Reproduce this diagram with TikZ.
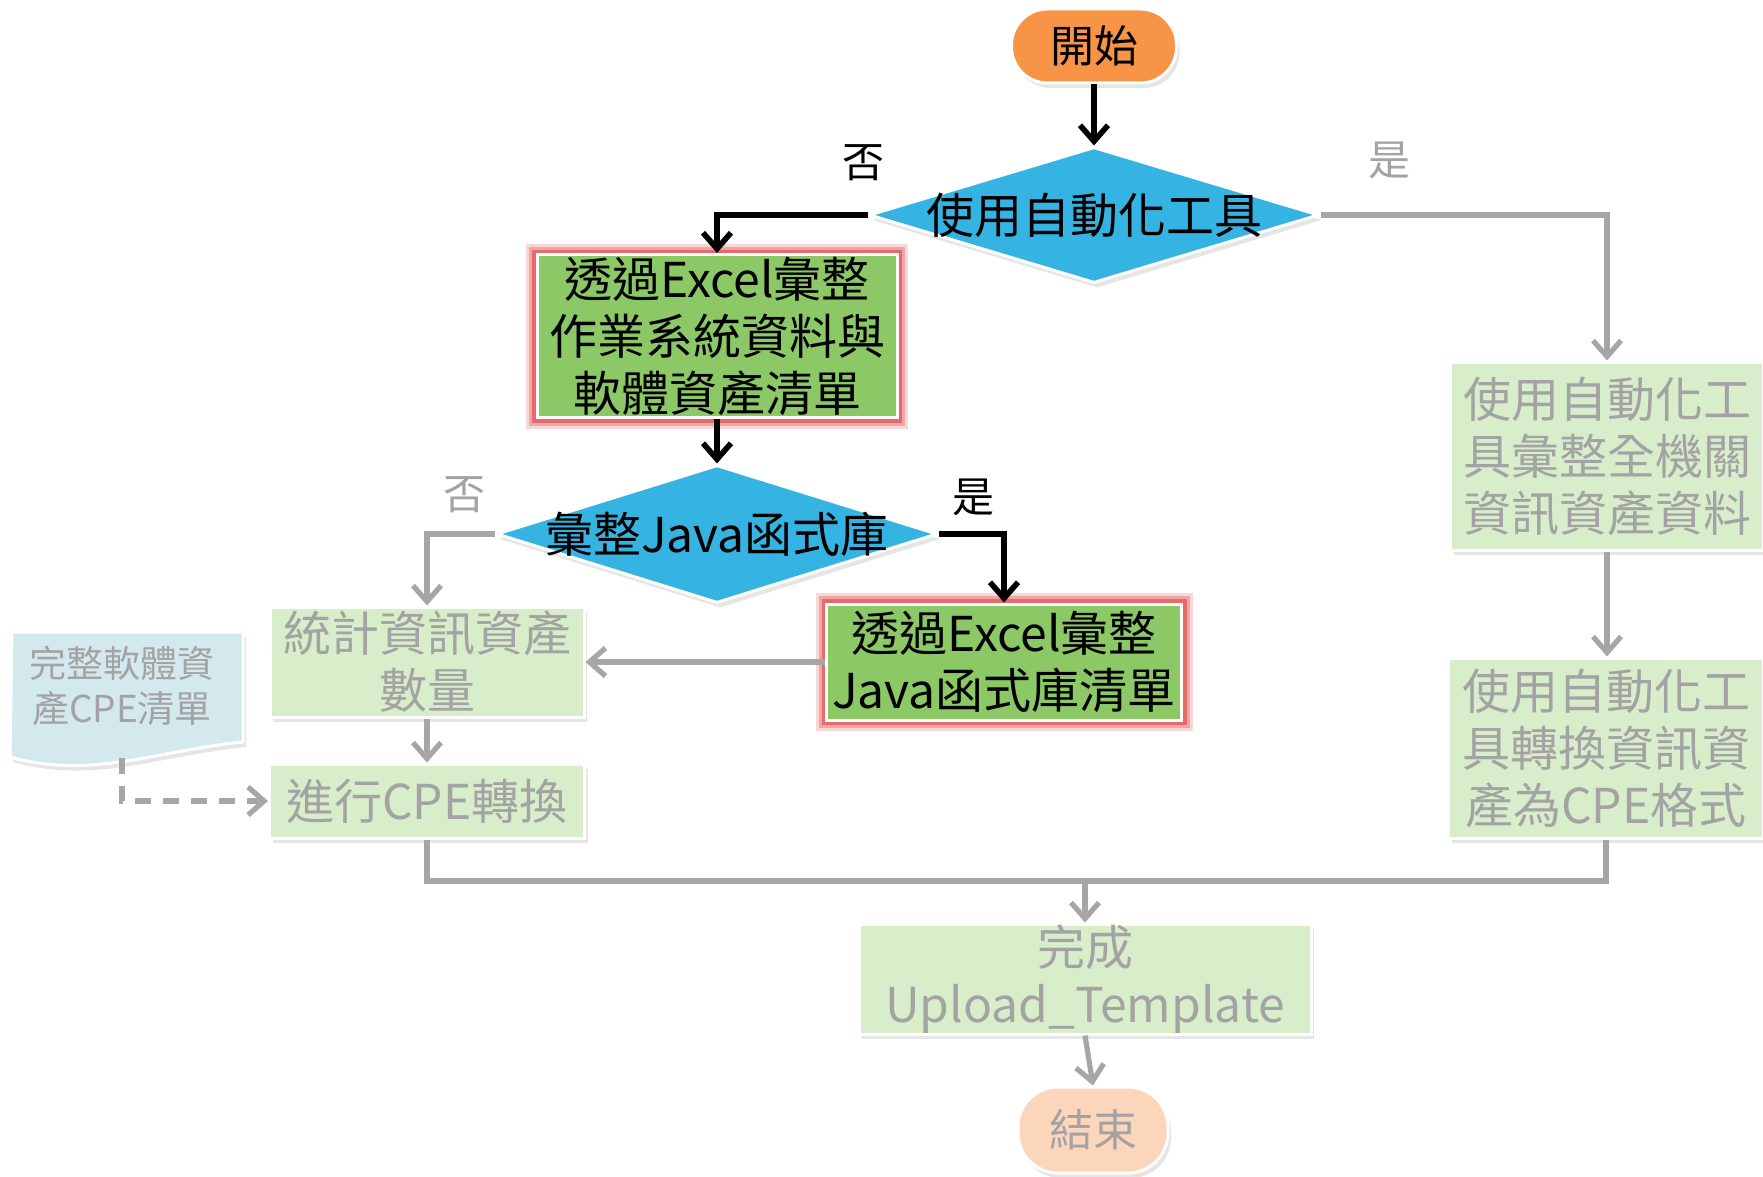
\documentclass[tikz,border=0pt]{standalone}
\usepackage{fontspec}
\setmainfont{Noto Sans CJK TC}
\usetikzlibrary{shapes.geometric, arrows.meta, shadows}

\definecolor{orangeC}{HTML}{F89446}
\definecolor{blueC}{HTML}{35B3E2}
\definecolor{greenC}{HTML}{8CC866}
\definecolor{paleG}{HTML}{D8EECB}
\definecolor{fadeT}{HTML}{A3A3A3}
\definecolor{lineG}{HTML}{A6A6A6}
\definecolor{docC}{HTML}{D3E9EE}
\definecolor{endC}{HTML}{FCD6BB}
\definecolor{glowC}{HTML}{E0383A}

\tikzset{
  big/.style={font=\fontsize{24pt}{28.5pt}\selectfont},
  base/.style={big, align=center, inner sep=0pt, line width=1.5pt, draw=white},
  soft/.style={drop shadow={opacity=0.2, shadow xshift=1.5pt, shadow yshift=-2.5pt}},
  glow/.style={
    preaction={draw=glowC, line width=11pt, draw opacity=0.2},
    preaction={draw=glowC, line width=8pt, draw opacity=0.3},
    preaction={draw=glowC, line width=5pt, draw opacity=0.55}},
  active/.style={base, rectangle, fill=greenC, text=black, glow},
  faded/.style={base, rectangle, fill=paleG, text=fadeT, soft},
  decision/.style={base, diamond, fill=blueC, text=black, soft},
  terminal/.style={base, rectangle, soft,
    font=\fontsize{22pt}{26pt}\selectfont},
  lbl/.style={font=\fontsize{21pt}{24pt}\selectfont, inner sep=0pt},
  tipA/.style={-{Straight Barb[length=8pt,width=14pt]}},
  arrB/.style={line width=2.8pt, black, tipA},
  lineGr/.style={line width=2.6pt, lineG},
  arrG/.style={lineGr, tipA},
}

\begin{document}
\begin{tikzpicture}[x=0.5pt,y=-0.5pt]
\useasboundingbox[fill=white] (0,0) rectangle (1763,1177);

% document shape (software asset list)
\fill[docC, draw=white, line width=1.5pt,
      drop shadow={opacity=0.2, shadow xshift=1.5pt, shadow yshift=-2.5pt}]
  (12,632) -- (243,632) -- (243,742)
  .. controls (160,750) and (90,780) .. (10,757) -- cycle;
\node[font=\fontsize{18.5pt}{22.5pt}\selectfont, text=fadeT, align=center, inner sep=0pt]
  (doc) at (122,686) {完整軟體資\\產CPE清單};
\coordinate (docb) at (122,758);

% nodes
\node[terminal, fill=orangeC, text=black, rounded corners=18pt,
      minimum width=82.5pt, minimum height=37pt]
  (start) at (1094,46) {開始};
\node[decision, minimum width=225pt, minimum height=68pt]
  (d1) at (1094,215) {\makebox[0pt]{使用自動化工具}};
\node[active, minimum width=180pt, minimum height=81.5pt]
  (box1) at (717,336) {透過Excel彙整\\作業系統資料與\\軟體資產清單};
\node[decision, minimum width=220.5pt, minimum height=69pt]
  (d2) at (717,534) {\makebox[0pt]{彙整Java函式庫}};
\node[active, minimum width=177.5pt, minimum height=58pt]
  (box2) at (1004,662) {透過Excel彙整\\Java函式庫清單};
\node[faded, minimum width=157pt, minimum height=55pt]
  (stat) at (427,662) {統計資訊資產\\數量};
\node[faded, minimum width=157.5pt, minimum height=37pt]
  (conv) at (427,801) {進行CPE轉換};
\node[faded, minimum width=156.5pt, minimum height=94pt]
  (r1) at (1607,456) {使用自動化工\\具彙整全機關\\資訊資產資料};
\node[faded, minimum width=157.5pt, minimum height=90pt]
  (r2) at (1606,748) {使用自動化工\\具轉換資訊資\\產為CPE格式};
\node[faded, minimum width=226pt, minimum height=55pt]
  (up) at (1085,979) {完成\\Upload\_Template};
\node[terminal, fill=endC, text=fadeT, rounded corners=20pt,
      minimum width=75pt, minimum height=43pt]
  (end) at (1093,1130) {結束};

% branch labels
\node[lbl, text=black] (no1) at (863,163) {否};
\node[lbl, text=fadeT] (yes1) at (1389,160) {是};
\node[lbl, text=fadeT] (no2) at (464,495) {否};
\node[lbl, text=black] (yes2) at (973,497) {是};

% connectors
\draw[arrB] (start) -- (d1);
\draw[arrB] (d1.west) -| (box1.north);
\draw[arrG] (d1.east) -| (r1.north);
\draw[arrB] (box1) -- (d2);
\draw[arrG] (d2.west) -| (stat.north);
\draw[arrB] (d2.east) -| (box2.north);
\draw[arrG] (box2.west) -- (stat.east);
\draw[arrG] (stat) -- (conv);
\draw[arrG] (r1.south) -- (r1.south |- r2.north);
\draw[lineGr, dashed, dash pattern=on 8pt off 6pt, tipA] (docb) |- (conv.west);
\coordinate (join) at (1085,881);
\draw[lineGr] (conv.south) |- (join) -| (r2.south);
\draw[arrG] (join) -- (up.north);
\draw[arrG] (up.south) -- (end.north);
\end{tikzpicture}
\end{document}
